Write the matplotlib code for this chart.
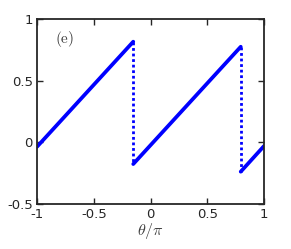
import numpy as np
import matplotlib.pyplot as plt

plt.rcParams['mathtext.fontset'] = 'cm'

# solid branches (theta/pi, value)
seg1_x = [-1.0, -0.152]
seg1_y = [-0.036, 0.816]
seg2_x = [-0.152, 0.795]
seg2_y = [-0.176, 0.775]
seg3_x = [0.795, 1.0]
seg3_y = [-0.238, -0.030]
# vertical jumps (dotted)
jump_x = [-0.152, 0.795]
jump_top = [0.816, 0.775]
jump_bot = [-0.176, -0.238]

xticks = [-1, -0.5, 0, 0.5, 1]
xticklabels = ['-1', '-0.5', '0', '0.5', '1']
yticks = [-0.5, 0, 0.5, 1]
yticklabels = ['-0.5', '0', '0.5', '1']

fig = plt.figure(figsize=(2.91, 2.49), dpi=100)
ax = fig.add_axes([37 / 291, 1 - 204 / 249, (264 - 37) / 291, (204 - 19) / 249])

blue = '#0000ff'
for xs, ys in [(seg1_x, seg1_y), (seg2_x, seg2_y), (seg3_x, seg3_y)]:
    ax.plot(xs, ys, color=blue, lw=2.7, solid_capstyle='round')
for x, t, b in zip(jump_x, jump_top, jump_bot):
    ax.plot([x, x], [t, b], color=blue, lw=2.0, linestyle=(0, (1, 1.0)))

ax.set_xlim(-1, 1)
ax.set_ylim(-0.5, 1)
ax.set_xticks(xticks)
ax.set_xticklabels(xticklabels)
ax.set_yticks(yticks)
ax.set_yticklabels(yticklabels)
ax.tick_params(direction='in', top=True, right=True, length=4, width=1.0,
               labelsize=9.5, colors='#262626', pad=3)
for s in ax.spines.values():
    s.set_linewidth(1.3)
    s.set_color('#262626')

ax.set_xlabel(r'$\theta/\pi$', fontsize=11.5, color='#404040', labelpad=0)
ax.text(-0.84, 0.835, r'$\mathrm{(e)}$', fontsize=11,
        color='#404040', va='center', ha='left')

fig.savefig('out.png', dpi=100)
